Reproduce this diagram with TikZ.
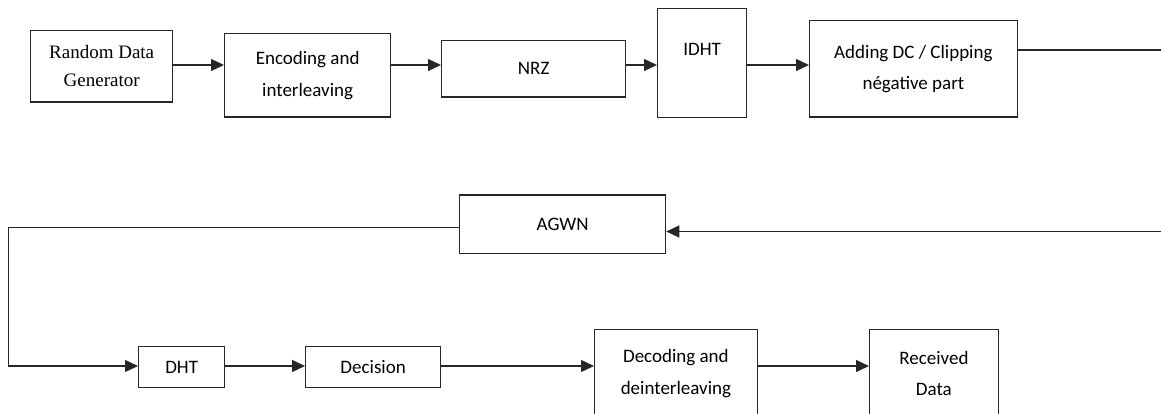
\documentclass[tikz,border=0pt]{standalone}
\usepackage{fontspec}
\setsansfont{Carlito}
\newfontfamily\genfont{Liberation Serif}
\usetikzlibrary{positioning, arrows.meta, calc}

\tikzset{
	block/.style={draw=black!85, line width=1.3pt, rectangle, inner sep=0pt, align=center, anchor=north west,
		font=\fontsize{19}{31.5}\selectfont\sffamily},
	flow/.style={draw=black!85, line width=1.3pt, -{Triangle[length=13pt,width=12pt]}},
}

\begin{document}
\begin{tikzpicture}[x=1pt, y=-1pt]
	\useasboundingbox (0,0) rectangle (1161,414);
	\clip (0,0) rectangle (1161,414);
	
	% emetteur
	\node[block, minimum width=142pt, minimum height=71.5pt, font=\fontsize{19}{28}\selectfont\genfont] (gen) at (30,30) {Random Data\\Generator};
	\node[block, minimum width=166pt, minimum height=83.5pt] (enc) at (224,33) {Encoding and\\interleaving};
	\node[block, minimum width=184pt, minimum height=56.5pt] (nrz) at (441,40) {NRZ};
	\node[block, minimum width=89pt, text height=47pt, text depth=62pt] (idht) at (657,8) {IDHT};
	\node[block, minimum width=207.5pt, minimum height=96.5pt] (addDC) at (809,20) {Adding DC / Clipping\\n\'egative part};
	
	% canal
	\node[block, minimum width=206pt, minimum height=58pt] (agwn) at (459,194.5) {AGWN};
	
	% recepteur
	\node[block, minimum width=86pt, minimum height=41pt] (dht) at (138,346) {DHT};
	\node[block, minimum width=135pt, minimum height=41pt] (decision) at (305,346) {Decision};
	\node[block, minimum width=162.5pt, minimum height=87.5pt] (decod) at (594,329) {Decoding and\\deinterleaving};
	\node[block, minimum width=128.5pt, minimum height=87.5pt] (received) at (869,329) {Received\\Data};
	
	\coordinate (upLine) at (0,65);
	\coordinate (lowLine) at (0,366);
	\coordinate (outTx) at (0,50);
	\coordinate (inCh) at (0,231.5);
	\coordinate (outCh) at (0,227.5);
	\coordinate (edgeR) at (1166,0);
	\coordinate (edgeL) at (8.5,0);
	
	\path (gen.east |- upLine) edge[flow] (enc.west |- upLine)
	(enc.east |- upLine) edge[flow] (nrz.west |- upLine)
	(nrz.east |- upLine) edge[flow] (idht.west |- upLine)
	(idht.east |- upLine) edge[flow] (addDC.west |- upLine)
	(dht.east |- lowLine) edge[flow] (decision.west |- lowLine)
	(decision.east |- lowLine) edge[flow] (decod.west |- lowLine)
	(decod.east |- lowLine) edge[flow] (received.west |- lowLine)
	;
	\draw[flow] (addDC.east |- outTx) -- (edgeR |- outTx) -- (edgeR |- inCh) -- (agwn.east |- inCh);
	\draw[flow] (agwn.west |- outCh) -- (edgeL |- outCh) |- (dht.west |- lowLine);
	
\end{tikzpicture}
\end{document}
